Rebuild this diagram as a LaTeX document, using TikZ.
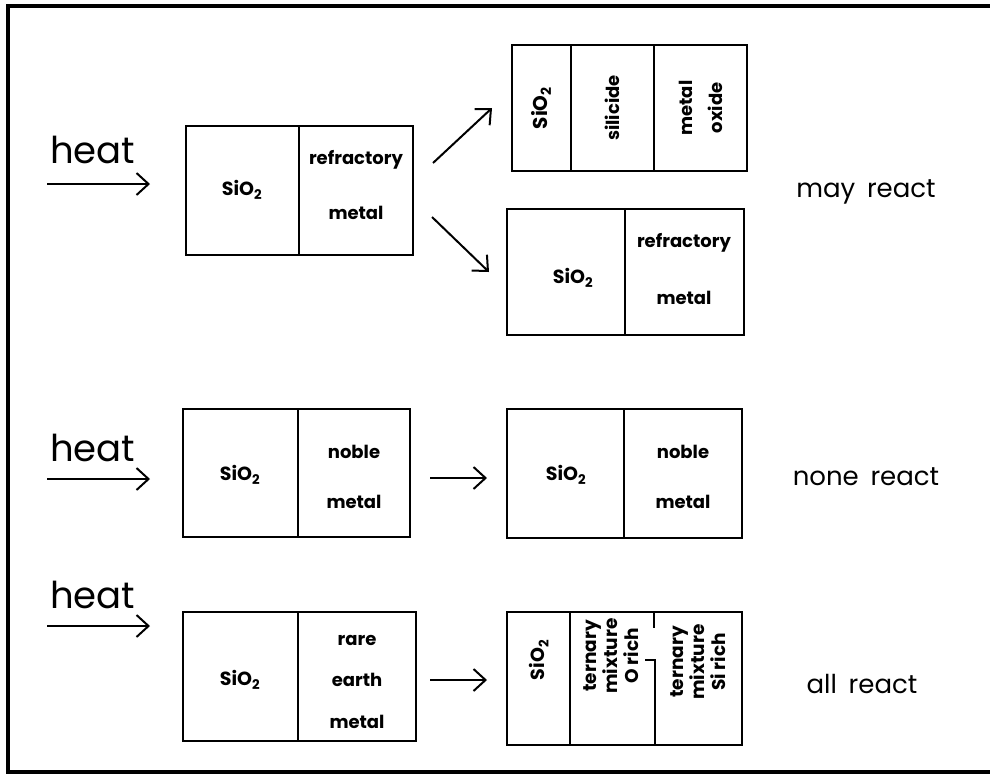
\documentclass[tikz,border=0pt]{standalone}
\usepackage{fontspec}
\setmainfont{Poppins}
\usetikzlibrary{arrows.meta}
\begin{document}
\begin{tikzpicture}[x=1pt,y=-1pt,
  cell/.style={draw, line width=2.4pt, rectangle, inner sep=0pt, outer sep=0pt, anchor=north west},
  lbl/.style={inner sep=0pt, font=\fontsize{18}{20}\selectfont\bfseries},
  sio/.style={inner sep=0pt, font=\fontsize{19}{20}\selectfont\bfseries},
  rlbl/.style={inner sep=0pt, rotate=90, align=center, font=\fontsize{18}{30}\selectfont\bfseries},
  rlbls/.style={inner sep=0pt, rotate=90, align=center, font=\fontsize{18.5}{21}\selectfont\bfseries},
  heatlbl/.style={inner sep=0pt, anchor=base west, font=\fontsize{37}{40}\selectfont},
  react/.style={inner sep=0pt, font=\fontsize{26}{28}\selectfont},
  arr/.style={line width=2pt, -{Straight Barb[length=12pt,width=22pt,line width=2pt]}},
  divline/.style={line width=2.4pt}]
\useasboundingbox (0,0) rectangle (990,777);
% frame
\draw[line width=4pt] (995,6) -- (8,6) -- (8,772) -- (995,772);

% ---------- row 1 ----------
\node[heatlbl] (h1) at (50,163) {heat};
\coordinate (h1s) at (47,184);
\coordinate (h1e) at (150,184);
\draw[arr] (h1s) -- (h1e);

\node[cell, minimum width=113pt, minimum height=129pt] (a1) at (186,126) {};
\node[cell, minimum width=114pt, minimum height=129pt] (a2) at (299,126) {};
\node[sio] (a1t) at (242,190) {SiO\textsubscript{2}};
\node[lbl] (a2t) at (356,160) {refractory};
\node[lbl] (a2b) at (356,213) {metal};

\node[cell, minimum width=59pt, minimum height=126pt] (c1) at (512,45) {};
\node[cell, minimum width=83pt, minimum height=126pt] (c2) at (571,45) {};
\node[cell, minimum width=93pt, minimum height=126pt] (c3) at (654,45) {};
\node[rlbl, font=\fontsize{20}{22}\selectfont\bfseries] (c1t) at (c1.center) {SiO\textsubscript{2}};
\node[rlbl] (c2t) at (c2.center) {silicide};
\node[rlbl] (c3t) at (c3.center) {metal\\oxide};

\node[cell, minimum width=118pt, minimum height=126pt] (d1) at (507,209) {};
\node[cell, minimum width=119pt, minimum height=126pt] (d2) at (625,209) {};
\node[sio] (d1t) at (573,278) {SiO\textsubscript{2}};
\node[lbl] (d2t) at (684,243) {refractory};
\node[lbl] (d2b) at (684,298) {metal};

\coordinate (u1) at (433,163);
\coordinate (u2) at (492,108);
\coordinate (l1) at (432,217);
\coordinate (l2) at (489,272);
\draw[arr] (u1) -- (u2);
\draw[arr] (l1) -- (l2);

\node[react] (r1) at (866,192) {may\hspace{0.45em}react};

% ---------- row 2 ----------
\node[heatlbl] (h2) at (50,461) {heat};
\coordinate (h2s) at (47,479);
\coordinate (h2e) at (150,479);
\draw[arr] (h2s) -- (h2e);

\node[cell, minimum width=115pt, minimum height=128pt] (e1) at (183,409) {};
\node[cell, minimum width=112pt, minimum height=128pt] (e2) at (298,409) {};
\node[sio] (e1t) at (240,475) {SiO\textsubscript{2}};
\node[lbl] (e2t) at (354,452) {noble};
\node[lbl] (e2b) at (354,502) {metal};

\node[cell, minimum width=117pt, minimum height=129pt] (f1) at (507,409) {};
\node[cell, minimum width=118pt, minimum height=129pt] (f2) at (624,409) {};
\node[sio] (f1t) at (566,475) {SiO\textsubscript{2}};
\node[lbl] (f2t) at (683,452) {noble};
\node[lbl] (f2b) at (683,502) {metal};

\coordinate (m1) at (430,478);
\coordinate (m2) at (487,478);
\draw[arr] (m1) -- (m2);

\node[react] (r2) at (866,477) {none\hspace{0.45em}react};

% ---------- row 3 ----------
\node[heatlbl] (h3) at (50,608) {heat};
\coordinate (h3s) at (47,626);
\coordinate (h3e) at (150,626);
\draw[arr] (h3s) -- (h3e);

\node[cell, minimum width=115pt, minimum height=129pt] (g1) at (183,612) {};
\node[cell, minimum width=118pt, minimum height=129pt] (g2) at (298,612) {};
\node[sio] (g1t) at (240,680) {SiO\textsubscript{2}};
\node[lbl] (g2t) at (357,640) {rare};
\node[lbl] (g2m) at (357,680) {earth};
\node[lbl] (g2b) at (357,722) {metal};

\node[cell, minimum width=63pt, minimum height=133pt] (k1) at (507,612) {};
\node[cell, minimum width=172pt, minimum height=133pt] (k2) at (570,612) {};
\draw[divline] (654,612) -- (654,628);
\draw[divline] (645,660) -- (655,660) -- (655,745);
\node[rlbl, font=\fontsize{19}{22}\selectfont\bfseries] (k1t) at (539,660) {SiO\textsubscript{2}};
\node[rlbls] (k2t) at (611,656) {ternary\\mixture\\O rich};
\node[rlbls] (k3t) at (698,662) {ternary\\mixture\\Si rich};

\coordinate (n1) at (430,680);
\coordinate (n2) at (487,680);
\draw[arr] (n1) -- (n2);

\node[react] (r3) at (862,684) {all\hspace{0.45em}react};
\end{tikzpicture}
\end{document}
